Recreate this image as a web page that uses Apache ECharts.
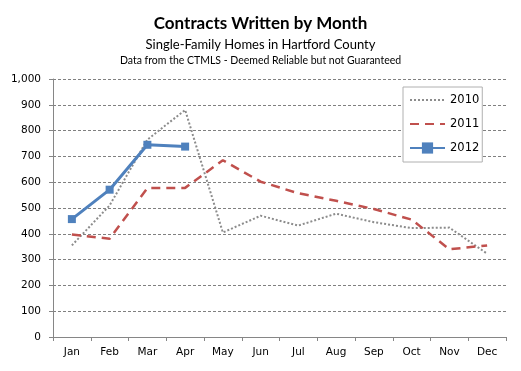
<!DOCTYPE html>
<html><head><meta charset="utf-8">
<script src="https://cdn.jsdelivr.net/npm/echarts@6/dist/echarts.min.js"></script>
<style>html,body{margin:0;padding:0;background:#fff}#c{width:521px;height:371px}</style>
</head><body><div id="c"></div>
<script>
const months = ['Jan','Feb','Mar','Apr','May','Jun','Jul','Aug','Sep','Oct','Nov','Dec'];
const s2010 = [355, 510, 765, 880, 405, 470, 432, 478, 445, 422, 424, 323];
const s2011 = [397, 381, 577, 578, 685, 602, 557, 528, 496, 455, 340, 355];
const s2012 = [457, 571, 745, 738];
const yTicks = [0,100,200,300,400,500,600,700,800,900,1000];

const chart = echarts.init(document.getElementById('c'), null, {renderer:'canvas'});
chart.setOption({
  animation:false,
  backgroundColor:'#fff',
  title:[
    {text:'Contracts Written by Month', left:'center', top:10, textStyle:{fontFamily:'Lato', fontWeight:'bold', fontSize:17, color:'#000'}},
    {text:'Single-Family Homes in Hartford County', left:'center', top:33, textStyle:{fontFamily:'Lato', fontWeight:'normal', fontSize:13, color:'#000'}},
    {text:'Data from the CTMLS - Deemed Reliable but not Guaranteed', left:'center', top:50, textStyle:{fontFamily:'Lato', fontWeight:'normal', fontSize:10.5, color:'#000'}}
  ],
  grid:{left:53, right:15, top:79, bottom:34, containLabel:false},
  legend:{
    orient:'vertical', left:403, top:87,
    padding:[6,3,7,6], itemGap:10, itemWidth:35, itemHeight:14,
    borderColor:'#b0b0b0', borderWidth:1, backgroundColor:'#fff',
    textStyle:{fontFamily:'DejaVu Sans', fontSize:11.5, color:'#000', lineHeight:14},
    data:['2010','2011','2012']
  },
  xAxis:{
    type:'category', data:months, boundaryGap:true,
    axisLine:{lineStyle:{color:'#868686', width:1}},
    axisTick:{show:true, length:4, lineStyle:{color:'#868686'}},
    axisLabel:{fontFamily:'DejaVu Sans', fontSize:10.5, color:'#000', margin:10}
  },
  yAxis:{
    type:'value', min:0, max:1000, interval:100,
    axisLine:{show:true, lineStyle:{color:'#868686', width:1}},
    axisTick:{show:true, length:4, lineStyle:{color:'#868686'}},
    axisLabel:{fontFamily:'DejaVu Sans', fontSize:10.5, color:'#000', margin:12,
      formatter:v=>yTicks.includes(v)? v.toLocaleString('en-US'):''},
    splitLine:{show:true, lineStyle:{color:'#808080', type:[3,2], width:1}}
  },
  series:[
    {name:'2010', type:'line', data:s2010, symbol:'circle', showSymbol:false, z:2,
     lineStyle:{color:'#8c8c8c', width:2, type:[2,2]},
     itemStyle:{color:'rgba(0,0,0,0)', borderColor:'rgba(0,0,0,0)', borderWidth:0}},
    {name:'2011', type:'line', data:s2011, symbol:'circle', showSymbol:false, z:3,
     lineStyle:{color:'#c0504d', width:2.5, type:[9,6]},
     itemStyle:{color:'rgba(0,0,0,0)', borderColor:'rgba(0,0,0,0)', borderWidth:0}},
    {name:'2012', type:'line', data:s2012, symbol:'rect', symbolSize:8, z:4,
     lineStyle:{color:'#4f81bd', width:3}, itemStyle:{color:'#4f81bd'}}
  ]
});
</script></body></html>
